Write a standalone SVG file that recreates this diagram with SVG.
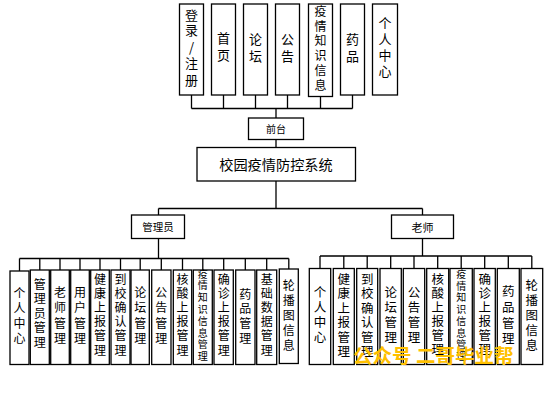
<svg xmlns="http://www.w3.org/2000/svg" width="551" height="414" viewBox="0 0 551 414">
<style>
rect{fill:#fff;stroke:#000;stroke-width:1.3}
.c line,.c path{stroke:#000;stroke-width:1.3;fill:none}
text{font-family:"Noto Sans CJK SC","Noto Sans",sans-serif;fill:#000;text-anchor:middle;dominant-baseline:central}
.t{font-size:13px}
.a{font-size:12px}
.b{font-size:12.5px}
.s{font-size:10px}
.wm{font-size:19.5px;font-weight:700;fill:#FFC000;text-anchor:start;dominant-baseline:alphabetic}
</style>
<rect width="551" height="414" style="fill:#fff;stroke:none"/>
<g class="c" id="connectors">
<path d="M191.5 95V108.5M223.5 95V108.5M255.5 95V108.5M287.5 95V108.5M320.5 96.5V108.5M352.5 95V108.5M191.5 108.5H352.5M276 108.5V118"/>
<path d="M276 139.5V147.5M276 181V208.5M158.5 208.5H422.5M158.5 208.5V215M422.5 208.5V215"/>
<path d="M158.5 238.5V258.5M19.5 258.5H288.8"/>
<path d="M19.5 258.5V271M39.8 258.5V270M60 258.5V270M80 258.5V270M100 258.5V270M120.5 258.5V270M140.2 258.5V270M161.3 258.5V270M182.5 258.5V270M202.8 258.5V270M223.7 258.5V270M245.3 258.5V270M266.7 258.5V270M288.8 258.5V269"/>
<path d="M422.5 238.5V256M320 256H531.8"/>
<path d="M320 256V268.5M343.8 256V268.5M367.2 256V268.5M390.7 256V268.5M414 256V268.5M437.7 256V268.5M461.2 256V268.5M484.7 256V268.5M508.3 256V268.5M531.8 256V268.5"/>
</g>
<g id="top1"><rect x="179.5" y="4" width="24" height="91"/><text class="t"><tspan x="191.5" y="14">登</tspan><tspan x="191.5" y="29">录</tspan><tspan x="191.5" y="45.5">/</tspan><tspan x="191.5" y="62">注</tspan><tspan x="191.5" y="79">册</tspan></text></g>
<g id="top2"><rect x="211.5" y="4" width="24" height="91"/><text class="t"><tspan x="223.5" y="37">首</tspan><tspan x="223.5" y="54">页</tspan></text></g>
<g id="top3"><rect x="243.5" y="4" width="24" height="91"/><text class="t"><tspan x="255.5" y="38">论</tspan><tspan x="255.5" y="55">坛</tspan></text></g>
<g id="top4"><rect x="275.5" y="4" width="24" height="91"/><text class="t"><tspan x="287.5" y="38">公</tspan><tspan x="287.5" y="55">告</tspan></text></g>
<g id="top5"><rect x="308.5" y="4" width="24" height="92.5"/><text class="a"><tspan x="320.5" y="10">疫</tspan><tspan x="320.5" y="24.7">情</tspan><tspan x="320.5" y="39.4">知</tspan><tspan x="320.5" y="54.1">识</tspan><tspan x="320.5" y="68.8">信</tspan><tspan x="320.5" y="83.5">息</tspan></text></g>
<g id="top6"><rect x="340.5" y="4" width="24" height="91"/><text class="t"><tspan x="352.5" y="38">药</tspan><tspan x="352.5" y="55">品</tspan></text></g>
<g id="top7"><rect x="372.5" y="4" width="25" height="91"/><text class="t"><tspan x="385" y="21.5">个</tspan><tspan x="385" y="37.5">人</tspan><tspan x="385" y="53.5">中</tspan><tspan x="385" y="70">心</tspan></text></g>
<g id="qiantai"><rect x="248.5" y="118" width="55" height="21.5"/><text class="s" x="276" y="128.5">前台</text></g>
<g id="system"><rect x="197" y="147.5" width="158.5" height="33.5"/><text x="276" y="163.5" style="font-size:14.2px">校园疫情防控系统</text></g>
<g id="admin"><rect x="131.5" y="215" width="53" height="23.5"/><text x="158" y="226.5" style="font-size:10.5px">管理员</text></g>
<g id="teacher"><rect x="391.5" y="215" width="62" height="23.5"/><text x="422.5" y="226.5" style="font-size:11px">老师</text></g>
<g id="a1"><rect x="10" y="271" width="19" height="93.5"/><text class="a"><tspan x="19.5" y="292">个</tspan><tspan x="19.5" y="307">人</tspan><tspan x="19.5" y="322">中</tspan><tspan x="19.5" y="337">心</tspan></text></g>
<g id="a2"><rect x="30.3" y="270" width="19" height="94.5"/><text class="a"><tspan x="39.8" y="282.5">管</tspan><tspan x="39.8" y="297">理</tspan><tspan x="39.8" y="311.5">员</tspan><tspan x="39.8" y="326">管</tspan><tspan x="39.8" y="340.5">理</tspan></text></g>
<g id="a3"><rect x="50.7" y="270" width="18.6" height="94.5"/><text class="a"><tspan x="60" y="291">老</tspan><tspan x="60" y="306">师</tspan><tspan x="60" y="321.5">管</tspan><tspan x="60" y="336.5">理</tspan></text></g>
<g id="a4"><rect x="70.7" y="270" width="18.6" height="94.5"/><text class="a"><tspan x="80" y="291">用</tspan><tspan x="80" y="306">户</tspan><tspan x="80" y="321.5">管</tspan><tspan x="80" y="336.5">理</tspan></text></g>
<g id="a5"><rect x="90.7" y="270" width="18.6" height="94.5"/><text class="a"><tspan x="100" y="277.5">健</tspan><tspan x="100" y="291.7">康</tspan><tspan x="100" y="305.9">上</tspan><tspan x="100" y="320.1">报</tspan><tspan x="100" y="334.3">管</tspan><tspan x="100" y="348.5">理</tspan></text></g>
<g id="a6"><rect x="111" y="270" width="19" height="94.5"/><text class="a"><tspan x="120.5" y="277.5">到</tspan><tspan x="120.5" y="291.7">校</tspan><tspan x="120.5" y="305.9">确</tspan><tspan x="120.5" y="320.1">认</tspan><tspan x="120.5" y="334.3">管</tspan><tspan x="120.5" y="348.5">理</tspan></text></g>
<g id="a7"><rect x="131" y="270" width="18.3" height="94.5"/><text class="a"><tspan x="140.2" y="291">论</tspan><tspan x="140.2" y="306">坛</tspan><tspan x="140.2" y="321.5">管</tspan><tspan x="140.2" y="336.5">理</tspan></text></g>
<g id="a8"><rect x="151.7" y="270" width="19.3" height="94.5"/><text class="a"><tspan x="161.3" y="291">公</tspan><tspan x="161.3" y="306">告</tspan><tspan x="161.3" y="321.5">管</tspan><tspan x="161.3" y="336.5">理</tspan></text></g>
<g id="a9"><rect x="173.3" y="270" width="18.4" height="94.5"/><text class="a"><tspan x="182.5" y="277.5">核</tspan><tspan x="182.5" y="291.7">酸</tspan><tspan x="182.5" y="305.9">上</tspan><tspan x="182.5" y="320.1">报</tspan><tspan x="182.5" y="334.3">管</tspan><tspan x="182.5" y="348.5">理</tspan></text></g>
<g id="a10"><rect x="193.3" y="270" width="19" height="94.5"/><text class="s"><tspan x="202.8" y="272.5">疫</tspan><tspan x="202.8" y="284.3">情</tspan><tspan x="202.8" y="296.1">知</tspan><tspan x="202.8" y="307.9">识</tspan><tspan x="202.8" y="319.7">信</tspan><tspan x="202.8" y="331.5">息</tspan><tspan x="202.8" y="343.3">管</tspan><tspan x="202.8" y="355.1">理</tspan></text></g>
<g id="a11"><rect x="214" y="270" width="19.3" height="94.5"/><text class="a"><tspan x="223.7" y="277.5">确</tspan><tspan x="223.7" y="291.7">诊</tspan><tspan x="223.7" y="305.9">上</tspan><tspan x="223.7" y="320.1">报</tspan><tspan x="223.7" y="334.3">管</tspan><tspan x="223.7" y="348.5">理</tspan></text></g>
<g id="a12"><rect x="235.7" y="270" width="19.3" height="94.5"/><text class="a"><tspan x="245.3" y="293">药</tspan><tspan x="245.3" y="307">品</tspan><tspan x="245.3" y="322">管</tspan><tspan x="245.3" y="337">理</tspan></text></g>
<g id="a13"><rect x="256.7" y="270" width="20" height="94.5"/><text class="a"><tspan x="266.7" y="277.5">基</tspan><tspan x="266.7" y="291.7">础</tspan><tspan x="266.7" y="305.9">数</tspan><tspan x="266.7" y="320.1">据</tspan><tspan x="266.7" y="334.3">管</tspan><tspan x="266.7" y="348.5">理</tspan></text></g>
<g id="a14"><rect x="279.3" y="269" width="19" height="94.5"/><text class="a"><tspan x="288.8" y="283.5">轮</tspan><tspan x="288.8" y="298.5">播</tspan><tspan x="288.8" y="313.5">图</tspan><tspan x="288.8" y="328.5">信</tspan><tspan x="288.8" y="343.5">息</tspan></text></g>
<g id="t1"><rect x="309.3" y="268.5" width="21.4" height="96"/><text class="b"><tspan x="320" y="290.5">个</tspan><tspan x="320" y="305.5">人</tspan><tspan x="320" y="320.5">中</tspan><tspan x="320" y="336">心</tspan></text></g>
<g id="t2"><rect x="333.3" y="268.5" width="21" height="96"/><text class="b"><tspan x="343.8" y="278">健</tspan><tspan x="343.8" y="292.4">康</tspan><tspan x="343.8" y="306.8">上</tspan><tspan x="343.8" y="321.2">报</tspan><tspan x="343.8" y="335.6">管</tspan><tspan x="343.8" y="350">理</tspan></text></g>
<g id="t3"><rect x="356.7" y="268.5" width="21" height="96"/><text class="b"><tspan x="367.2" y="278">到</tspan><tspan x="367.2" y="292.4">校</tspan><tspan x="367.2" y="306.8">确</tspan><tspan x="367.2" y="321.2">认</tspan><tspan x="367.2" y="335.6">管</tspan><tspan x="367.2" y="350">理</tspan></text></g>
<g id="t4"><rect x="380" y="268.5" width="21.3" height="96"/><text class="b"><tspan x="390.7" y="290.5">论</tspan><tspan x="390.7" y="305.5">坛</tspan><tspan x="390.7" y="320.5">管</tspan><tspan x="390.7" y="335.5">理</tspan></text></g>
<g id="t5"><rect x="403.3" y="268.5" width="21.4" height="96"/><text class="b"><tspan x="414" y="290.5">公</tspan><tspan x="414" y="305.5">告</tspan><tspan x="414" y="320.5">管</tspan><tspan x="414" y="335.5">理</tspan></text></g>
<g id="t6"><rect x="426.7" y="268.5" width="22" height="96"/><text class="b"><tspan x="437.7" y="278">核</tspan><tspan x="437.7" y="292">酸</tspan><tspan x="437.7" y="306">上</tspan><tspan x="437.7" y="320">报</tspan><tspan x="437.7" y="334">管</tspan><tspan x="437.7" y="348">理</tspan></text></g>
<g id="t7"><rect x="450" y="268.5" width="22.3" height="96"/><text class="s"><tspan x="461.2" y="273">疫</tspan><tspan x="461.2" y="284.7">情</tspan><tspan x="461.2" y="296.4">知</tspan><tspan x="461.2" y="308.1">识</tspan><tspan x="461.2" y="319.8">信</tspan><tspan x="461.2" y="331.5">息</tspan><tspan x="461.2" y="343.2">管</tspan><tspan x="461.2" y="354.9">理</tspan></text></g>
<g id="t8"><rect x="474" y="268.5" width="21.3" height="96"/><text class="b"><tspan x="484.7" y="278">确</tspan><tspan x="484.7" y="292">诊</tspan><tspan x="484.7" y="306">上</tspan><tspan x="484.7" y="320">报</tspan><tspan x="484.7" y="334">管</tspan><tspan x="484.7" y="348">理</tspan></text></g>
<g id="t9"><rect x="497.3" y="268.5" width="22" height="96"/><text class="b"><tspan x="508.3" y="290">药</tspan><tspan x="508.3" y="306">品</tspan><tspan x="508.3" y="321.5">管</tspan><tspan x="508.3" y="336.5">理</tspan></text></g>
<g id="t10"><rect x="521" y="268.5" width="21.7" height="96"/><text class="b"><tspan x="531.8" y="283.5">轮</tspan><tspan x="531.8" y="298.5">播</tspan><tspan x="531.8" y="313.5">图</tspan><tspan x="531.8" y="328.5">信</tspan><tspan x="531.8" y="343.5">息</tspan></text></g>
<text class="wm" x="353" y="363">公众号 二哥毕业帮</text>
</svg>
